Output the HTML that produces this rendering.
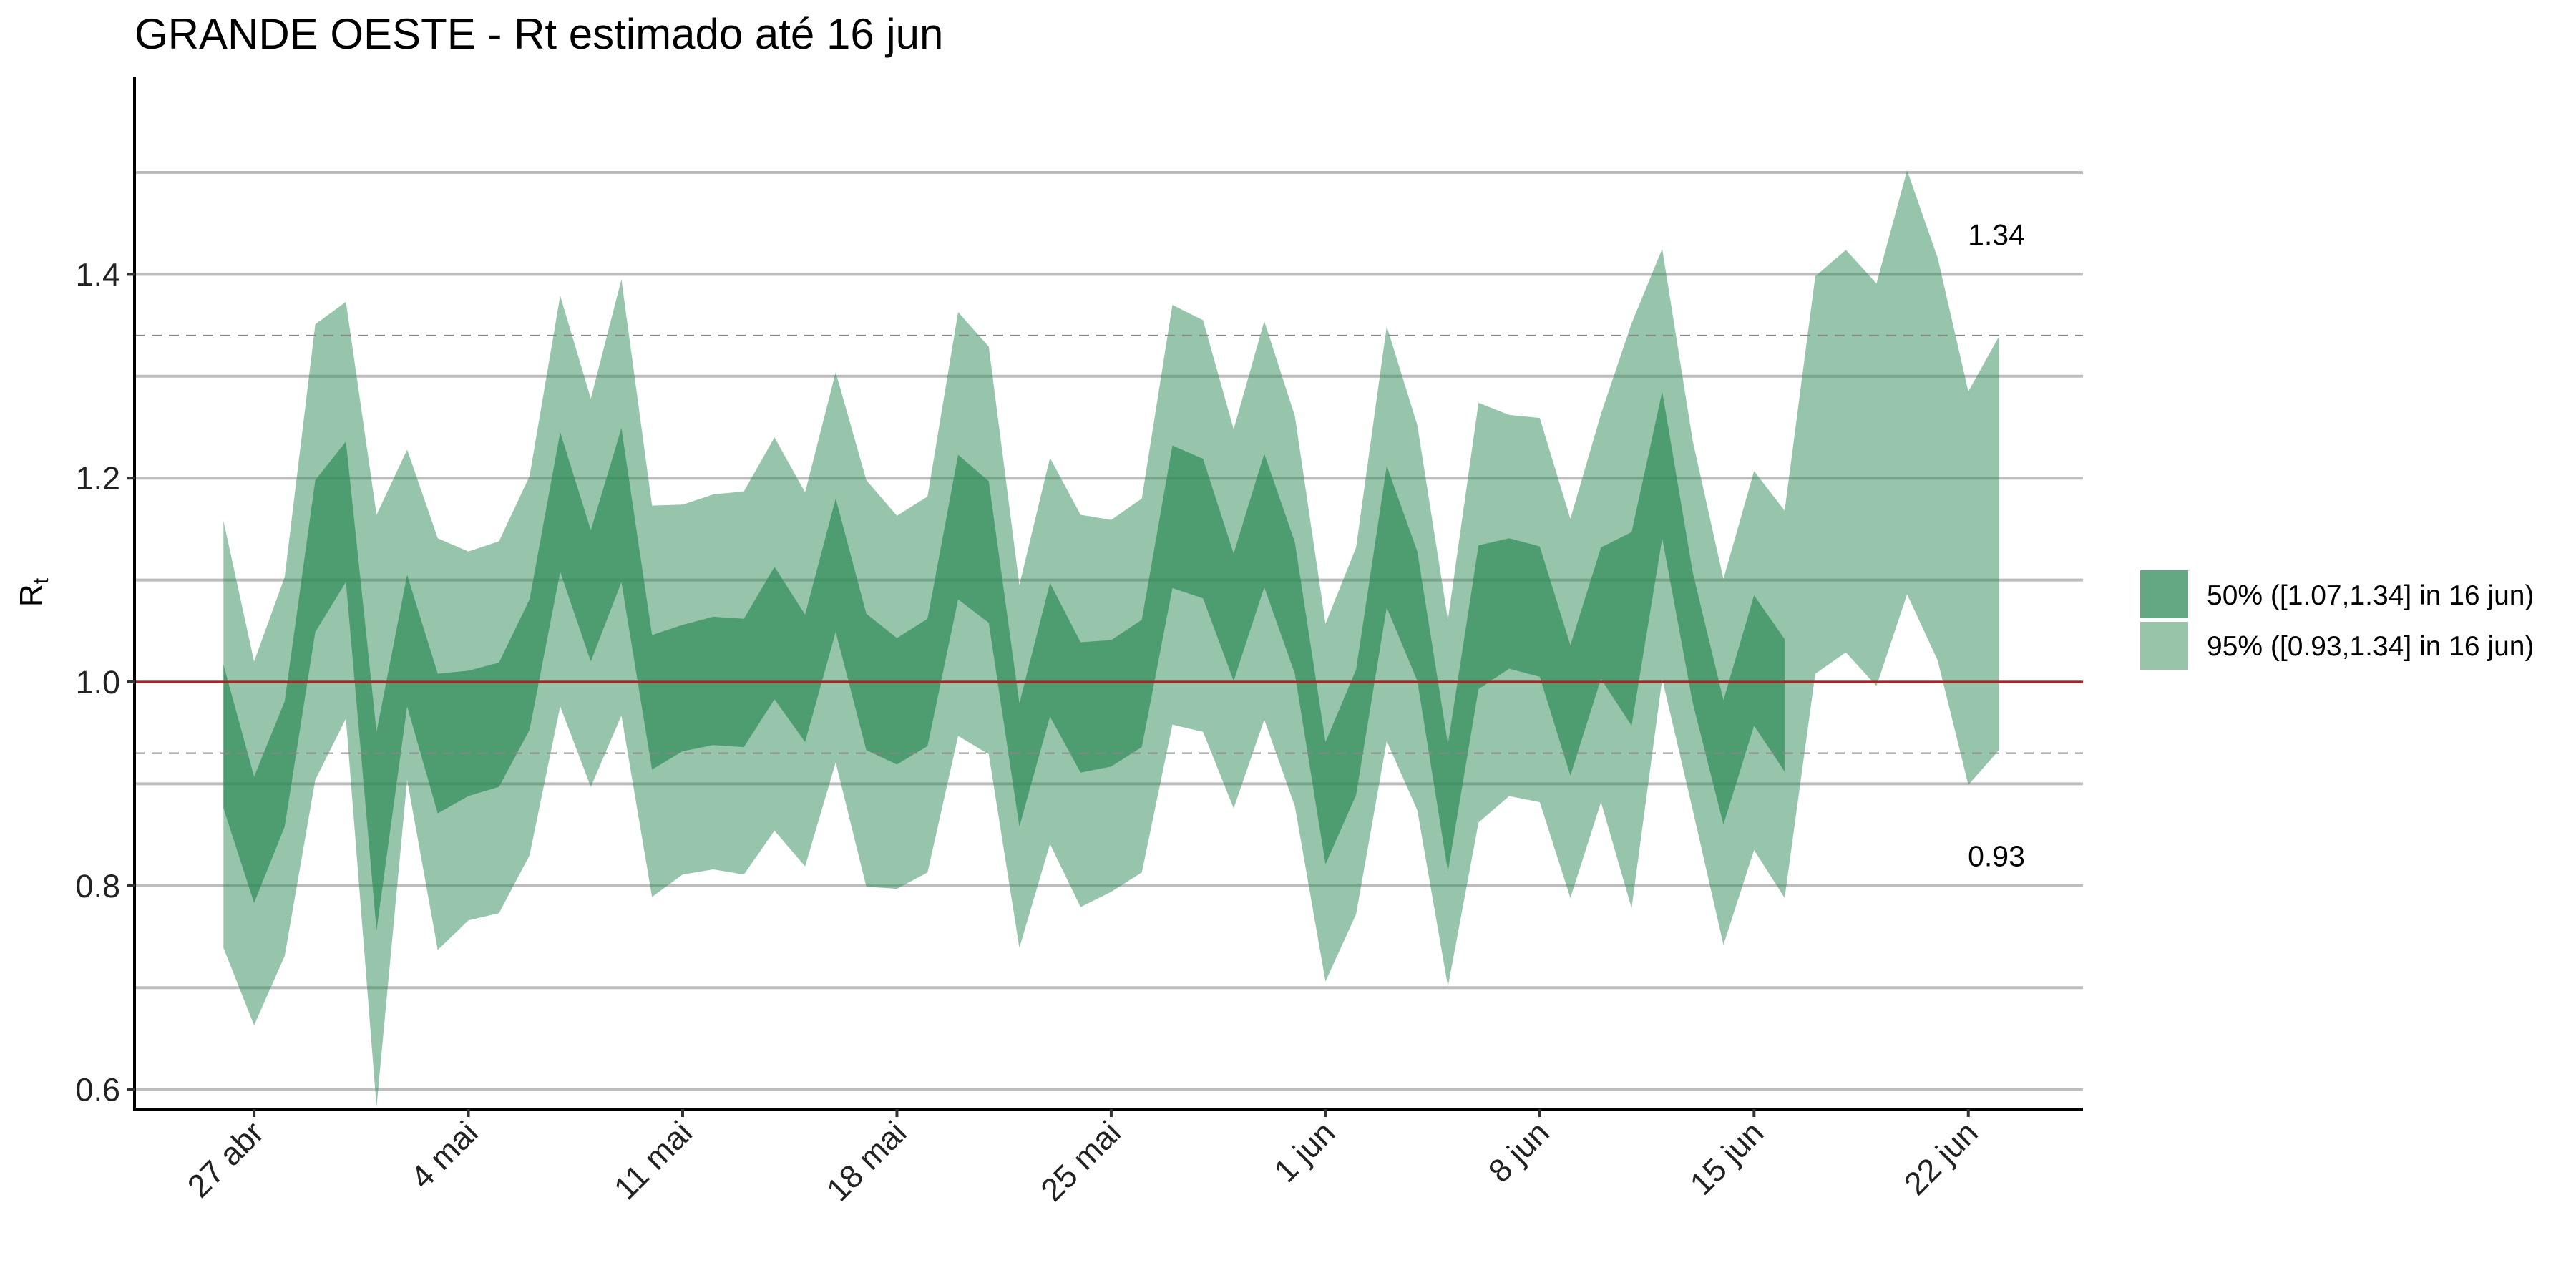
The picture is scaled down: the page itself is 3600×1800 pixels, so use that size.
<!DOCTYPE html>
<html><head><meta charset="utf-8"><style>
html,body{margin:0;padding:0;background:#fff;}
svg{display:block;font-family:"Liberation Sans",sans-serif;}
</style></head><body>
<svg id="chart" width="3600" height="1800" viewBox="0 0 3600 1800" xmlns="http://www.w3.org/2000/svg">
<rect width="3600" height="1800" fill="#fff"/>
<text x="188" y="68" font-size="60" fill="#000">GRANDE OESTE - Rt estimado até 16 jun</text>
<g id="grid"></g><g id="bands"></g><g id="refs"></g><g id="axes"></g>
<text transform="translate(58,828) rotate(-90)" font-size="44" text-anchor="middle">R<tspan font-size="30" dy="9">t</tspan></text>
<g>
<rect x="2991" y="797" width="67" height="67" fill="#63a882"/>
<rect x="2991" y="869" width="67" height="67" fill="#98c5a9"/>
<text x="3084" y="845" font-size="39">50% ([1.07,1.34] in 16 jun)</text>
<text x="3084" y="916" font-size="39">95% ([0.93,1.34] in 16 jun)</text>
</g>
</svg>
<script>
const upper95=[1.158,1.020,1.103,1.351,1.373,1.164,1.228,1.141,1.128,1.138,1.202,1.379,1.278,1.395,1.173,1.174,1.184,1.187,1.240,1.186,1.304,1.198,1.163,1.182,1.363,1.329,1.095,1.220,1.164,1.159,1.180,1.370,1.355,1.248,1.354,1.261,1.057,1.132,1.349,1.252,1.061,1.274,1.262,1.259,1.160,1.263,1.352,1.425,1.236,1.101,1.207,1.168,1.398,1.424,1.391,1.502,1.416,1.285,1.339];
const lower95=[0.739,0.663,0.731,0.904,0.964,0.583,0.904,0.737,0.766,0.773,0.830,0.976,0.897,0.967,0.789,0.811,0.816,0.811,0.854,0.819,0.921,0.799,0.797,0.813,0.947,0.929,0.739,0.841,0.779,0.794,0.813,0.958,0.951,0.876,0.963,0.878,0.706,0.772,0.942,0.874,0.701,0.862,0.888,0.882,0.788,0.882,0.778,1.003,0.874,0.742,0.835,0.788,1.008,1.029,0.996,1.086,1.021,0.899,0.933];
const upper50=[1.017,0.907,0.981,1.198,1.236,0.951,1.105,1.008,1.011,1.019,1.081,1.245,1.149,1.249,1.046,1.056,1.064,1.062,1.113,1.066,1.180,1.067,1.043,1.062,1.223,1.197,0.979,1.097,1.039,1.041,1.061,1.232,1.219,1.126,1.224,1.137,0.941,1.012,1.212,1.128,0.939,1.134,1.141,1.133,1.036,1.132,1.147,1.285,1.107,0.982,1.085,1.042];
const lower50=[0.876,0.783,0.858,1.049,1.098,0.756,0.976,0.871,0.888,0.897,0.953,1.108,1.020,1.098,0.914,0.932,0.938,0.936,0.983,0.941,1.049,0.933,0.919,0.937,1.081,1.058,0.858,0.966,0.911,0.917,0.936,1.092,1.082,1.001,1.093,1.008,0.821,0.889,1.073,1.001,0.814,0.993,1.013,1.005,0.908,1.003,0.957,1.141,0.979,0.860,0.957,0.912];
const yTicks=[0.6,0.8,1.0,1.2,1.4];
const gridVals=[0.6,0.7,0.8,0.9,1.0,1.1,1.2,1.3,1.4,1.5];
const xTickDays=[1,8,15,22,29,36,43,50,57];
const xTickLabels=["27 abr","4 mai","11 mai","18 mai","25 mai","1 jun","8 jun","15 jun","22 jun"];
const refLines=[1.34,0.93];
const NS="http://www.w3.org/2000/svg";
const L=188,R=2911,T=108,B=1550;
function X(d){return 312.3+42.78*d;}
function Y(v){return 953-(v-1)*1424;}
function mk(tag,attrs,parent){const e=document.createElementNS(NS,tag);for(const k in attrs)e.setAttribute(k,attrs[k]);document.getElementById(parent).appendChild(e);return e;}
gridVals.forEach(v=>{const e=mk('line',{x1:L,x2:R,y1:Y(v),y2:Y(v),stroke:'#bdbdbd','stroke-width':4},'grid');

});
function band(up,lo,op,name){let p=up.map((v,i)=>X(i)+','+Y(v));for(let i=lo.length-1;i>=0;i--)p.push(X(i)+','+Y(lo[i]));
const e=mk('polygon',{points:p.join(' '),fill:'#2e8b57','fill-opacity':op},'bands');

}
band(upper95,lower95,0.5,'band-95');
band(upper50,lower50,0.7,'band-50');
const one=mk('line',{x1:L,x2:R,y1:Y(1),y2:Y(1),stroke:'#b22222','stroke-width':3},'refs');


refLines.forEach(v=>{const e=mk('line',{x1:L,x2:R,y1:Y(v),y2:Y(v),stroke:'#888','stroke-width':2,'stroke-dasharray':'14 10'},'refs');


const t=mk('text',{x:2790,y:Y(v)+(v>1?-127:+158),'font-size':41,'text-anchor':'middle'},'refs');t.textContent=v.toFixed(2);

});
const ya=mk('line',{x1:L,x2:L,y1:T,y2:B+2,stroke:'#000','stroke-width':4},'axes');


const xa=mk('line',{x1:L-2,x2:R,y1:B,y2:B,stroke:'#000','stroke-width':4},'axes');


yTicks.forEach(v=>{const tk=mk('line',{x1:L-10,x2:L,y1:Y(v),y2:Y(v),stroke:'#333','stroke-width':4},'axes');


const t=mk('text',{x:L-20,y:Y(v)+16,'font-size':45,'text-anchor':'end',fill:'#222'},'axes');t.textContent=v.toFixed(1);

});
xTickDays.forEach((d,i)=>{const x=X(d);const tk=mk('line',{x1:x,x2:x,y1:B,y2:B+11,stroke:'#333','stroke-width':4},'axes');


const t=mk('text',{transform:`translate(${x+16},${B+36}) rotate(-45)`,'font-size':45,'text-anchor':'end',fill:'#222'},'axes');t.textContent=xTickLabels[i];

});
</script>
</body></html>
